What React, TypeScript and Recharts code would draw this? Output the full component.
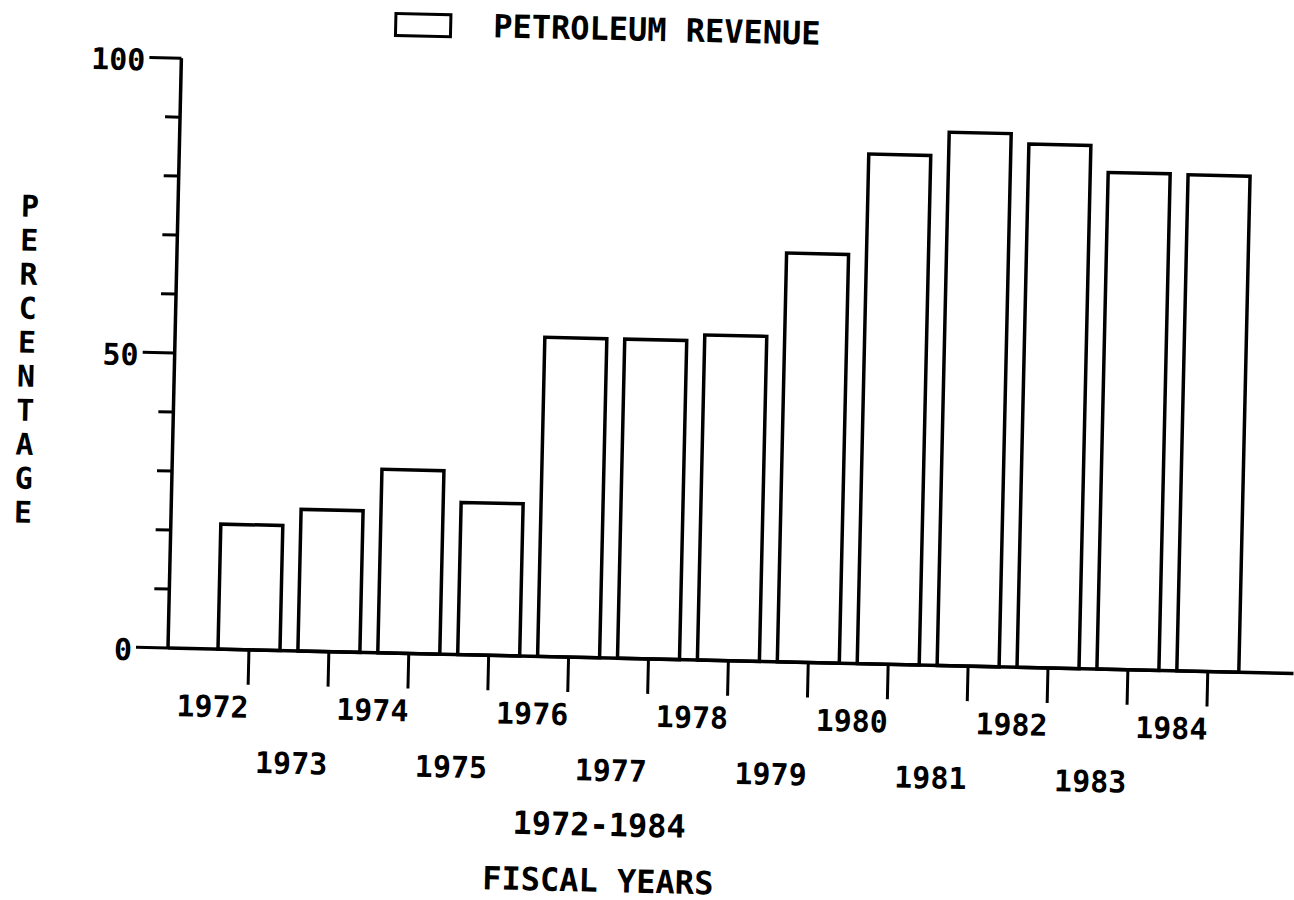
import React from 'react';
import { BarChart, Bar, XAxis, YAxis, Legend, Label } from 'recharts';

// fiscal years and petroleum share of revenue (%)
const years = ['1972', '1973', '1974', '1975', '1976', '1977', '1978', '1979', '1980', '1981', '1982', '1983', '1984'];
const petroleumShare = [21.2, 24.0, 31.1, 25.8, 54.1, 54.1, 55.1, 69.3, 86.4, 90.4, 88.7, 84.2, 84.1];
const yTicks = [0, 10, 20, 30, 40, 50, 60, 70, 80, 90, 100];
const yLabeled = [0, 50, 100];

const data = years.map((year, i) => ({ year, value: petroleumShare[i] }));

const FONT = "'DejaVu Sans Mono', monospace";

const XTick = (props: any) => {
  const { x, y, payload } = props;
  const even = Number(payload.value) % 2 === 0;
  return (
    <g>
      <line x1={x} y1={y} x2={x} y2={y + 35} stroke="#000" strokeWidth={3} />
      <text
        x={x + 1}
        y={y + (even ? 68 : 123)}
        textAnchor="end"
        fontFamily={FONT}
        fontWeight={700}
        fontSize={30}
        fill="#000"
      >
        {payload.value}
      </text>
    </g>
  );
};

const YTick = (props: any) => {
  const { x, y, payload } = props;
  const major = yLabeled.includes(payload.value);
  const len = major ? 32 : 15;
  return (
    <g>
      <line x1={x - len} y1={y} x2={x} y2={y} stroke="#000" strokeWidth={3} />
      {major && (
        <text
          x={x - 36}
          y={y + 13}
          textAnchor="end"
          fontFamily={FONT}
          fontWeight={700}
          fontSize={30}
          fill="#000"
        >
          {payload.value}
        </text>
      )}
    </g>
  );
};

const XTitle = () => (
  <g fontFamily={FONT} fontWeight={700} fontSize={32} fill="#000">
    <text x={603} y={826} textAnchor="middle">1972-1984</text>
    <text x={603} y={882} textAnchor="middle">FISCAL YEARS</text>
  </g>
);

const YTitle = () => (
  <text x={20} y={220} textAnchor="middle" fontFamily={FONT} fontWeight={700} fontSize={30} fill="#000">
    {'PERCENTAGE'.split('').map((ch, i) => (
      <tspan key={i} x={20} dy={i === 0 ? 0 : 34}>
        {ch}
      </tspan>
    ))}
  </text>
);

const LegendBox = () => (
  <div style={{ display: 'flex', alignItems: 'center', fontFamily: FONT, fontWeight: 700, fontSize: 32, color: '#000' }}>
    <div style={{ width: 58, height: 25, border: '3px solid #000', boxSizing: 'border-box' }} />
    <span style={{ marginLeft: 41, lineHeight: '32px' }}>PETROLEUM REVENUE</span>
  </div>
);

export default function App() {
  return (
    <div
      style={{
        position: 'absolute',
        left: 0,
        top: 0,
        width: 1294,
        height: 900,
        background: '#fff',
        transform: 'rotate(1.3deg)',
        transformOrigin: '168px 648px',
      }}
    >
      <BarChart
        width={1294}
        height={900}
        data={data}
        margin={{ top: 58, right: 0, bottom: 0, left: 0 }}
        barSize={62}
      >
        <XAxis
          dataKey="year"
          height={252}
          padding={{ left: 41, right: 46 }}
          axisLine={{ stroke: '#000', strokeWidth: 3.5 }}
          tickLine={false}
          tickSize={0}
          tickMargin={0}
          interval={0}
          tick={<XTick />}
        >
          <Label content={<XTitle />} />
        </XAxis>
        <YAxis
          width={168}
          domain={[0, 100]}
          ticks={yTicks}
          interval={0}
          axisLine={{ stroke: '#000', strokeWidth: 3.5 }}
          tickLine={false}
          tickSize={0}
          tickMargin={0}
          tick={<YTick />}
        >
          <Label content={<YTitle />} />
        </YAxis>
        <Legend
          layout="horizontal"
          verticalAlign="middle"
          align="center"
          content={<LegendBox />}
          wrapperStyle={{ position: 'absolute', top: 3, left: 380, width: 600 }}
        />
        <Bar dataKey="value" name="PETROLEUM REVENUE" fill="#fff" stroke="#000" strokeWidth={3.5} isAnimationActive={false} />
      </BarChart>
    </div>
  );
}
